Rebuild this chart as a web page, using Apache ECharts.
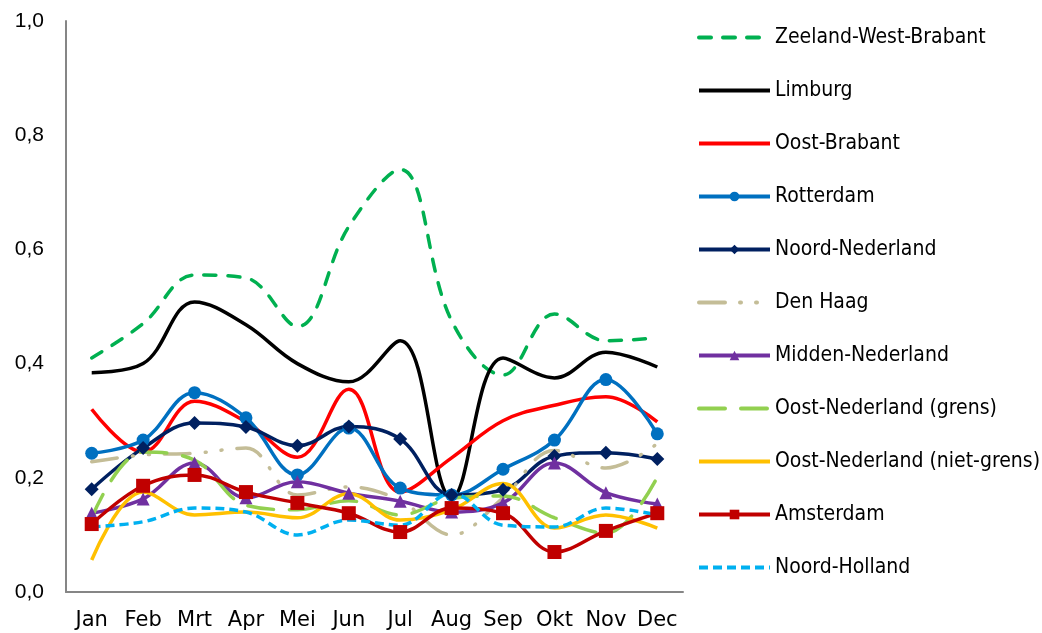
<!DOCTYPE html>
<html>
<head>
<meta charset="utf-8">
<script src="https://cdn.jsdelivr.net/npm/echarts@6/dist/echarts.min.js"></script>
<style>html,body{margin:0;padding:0;background:#fff}#c{width:1042px;height:633px}</style>
</head>
<body>
<div id="c"></div>
<script>
const months = ['Jan','Feb','Mrt','Apr','Mei','Jun','Jul','Aug','Sep','Okt','Nov','Dec'];
const yTicks = [0, 0.2, 0.4, 0.6, 0.8, 1.0];

const zeelandWestBrabant = [0.41, 0.47, 0.555, 0.55, 0.465, 0.64, 0.74, 0.475, 0.38, 0.487, 0.44, 0.445];
const limburg = [0.384, 0.40, 0.508, 0.468, 0.40, 0.368, 0.44, 0.165, 0.41, 0.375, 0.42, 0.394];
const oostBrabant = [0.32, 0.245, 0.334, 0.298, 0.236, 0.355, 0.175, 0.235, 0.30, 0.327, 0.342, 0.298];
const rotterdam = [0.243, 0.266, 0.349, 0.305, 0.205, 0.287, 0.182, 0.17, 0.215, 0.266, 0.372, 0.277];
const noordNederland = [0.18, 0.252, 0.296, 0.289, 0.256, 0.29, 0.268, 0.17, 0.179, 0.238, 0.244, 0.233];
const denHaag = [0.228, 0.24, 0.243, 0.252, 0.17, 0.184, 0.16, 0.1, 0.165, 0.248, 0.217, 0.26];
const middenNederland = [0.138, 0.163, 0.226, 0.165, 0.193, 0.173, 0.159, 0.14, 0.156, 0.226, 0.174, 0.154];
const oostNederlandGrens = [0.13, 0.245, 0.231, 0.152, 0.144, 0.16, 0.135, 0.164, 0.168, 0.13, 0.103, 0.201];
const oostNederlandNietGrens = [0.056, 0.175, 0.135, 0.14, 0.13, 0.172, 0.126, 0.144, 0.19, 0.112, 0.135, 0.112];
const amsterdam = [0.119, 0.186, 0.205, 0.175, 0.156, 0.138, 0.105, 0.147, 0.138, 0.07, 0.107, 0.138];
const noordHolland = [0.114, 0.123, 0.147, 0.14, 0.1, 0.126, 0.117, 0.173, 0.117, 0.114, 0.147, 0.135];

const FONT = 'DejaVu Sans';

function mk(name, data, color, opts) {
  opts = opts || {};
  return {
    name: name,
    type: 'line',
    data: data,
    smooth: 0.38,
    symbol: opts.symbol || 'none',
    symbolSize: opts.symbolSize || 12,
    showSymbol: !!opts.symbol,
    itemStyle: { color: color, borderWidth: 0 },
    lineStyle: { color: color, width: 3.5, type: opts.type || 'solid', cap: opts.cap || 'butt' },
    emphasis: { disabled: true },
    z: opts.z || 2
  };
}

const series = [
  mk('Zeeland-West-Brabant', zeelandWestBrabant, '#00B050', { type: [12, 12], cap: 'round' }),
  mk('Limburg', limburg, '#000000'),
  mk('Oost-Brabant', oostBrabant, '#FF0000'),
  mk('Rotterdam', rotterdam, '#0070C0', { symbol: 'circle', symbolSize: 13 }),
  mk('Noord-Nederland', noordNederland, '#002060', { symbol: 'diamond', symbolSize: 14 }),
  mk('Den Haag', denHaag, '#C4BD97', { type: [26, 15, 1, 15, 1, 15], cap: 'round' }),
  mk('Midden-Nederland', middenNederland, '#7030A0', { symbol: 'triangle', symbolSize: 13 }),
  mk('Oost-Nederland (grens)', oostNederlandGrens, '#92D050', { type: [26, 16], cap: 'round' }),
  mk('Oost-Nederland (niet-grens)', oostNederlandNietGrens, '#FFC000'),
  mk('Amsterdam', amsterdam, '#C00000', { symbol: 'rect', symbolSize: 14 }),
  mk('Noord-Holland', noordHolland, '#00B0F0', { type: [9, 5] })
];

const chart = echarts.init(document.getElementById('c'), null, { renderer: 'canvas' });
chart.setOption({
  animation: false,
  backgroundColor: '#ffffff',
  textStyle: { fontFamily: FONT },
  grid: { left: 66, right: 359, top: 21, bottom: 41, containLabel: false },
  legend: {
    orient: 'vertical',
    left: 692,
    top: 6,
    itemWidth: 71,
    itemHeight: 12,
    itemGap: 0,
    selectedMode: false,
    lineStyle: { width: 4 },
    textStyle: { fontFamily: '"DejaVu Sans Condensed", "DejaVu Sans"', fontSize: 21, color: '#000', lineHeight: 53 },
    data: series.map(s => s.showSymbol ? { name: s.name } : { name: s.name, itemStyle: { opacity: 0 } })
  },
  xAxis: {
    type: 'category',
    data: months,
    boundaryGap: true,
    axisLine: { lineStyle: { color: '#868686', width: 2 } },
    axisTick: { alignWithLabel: true, length: 5, interval: 0, lineStyle: { color: '#868686', width: 1 } },
    axisLabel: { fontFamily: FONT, fontSize: 21, color: '#000', margin: 18, interval: 0, hideOverlap: false },
    splitLine: { show: false }
  },
  yAxis: {
    type: 'value',
    min: 0,
    max: 1,
    interval: 0.2,
    axisLine: { show: true, lineStyle: { color: '#868686', width: 2 } },
    axisTick: { show: false },
    splitLine: { show: false },
    axisLabel: {
      fontFamily: '"Liberation Sans", Arial', fontSize: 21, color: '#000', margin: 22,
      formatter: v => v.toFixed(1).replace('.', ',')
    }
  },
  series: series
});
</script>
</body>
</html>
